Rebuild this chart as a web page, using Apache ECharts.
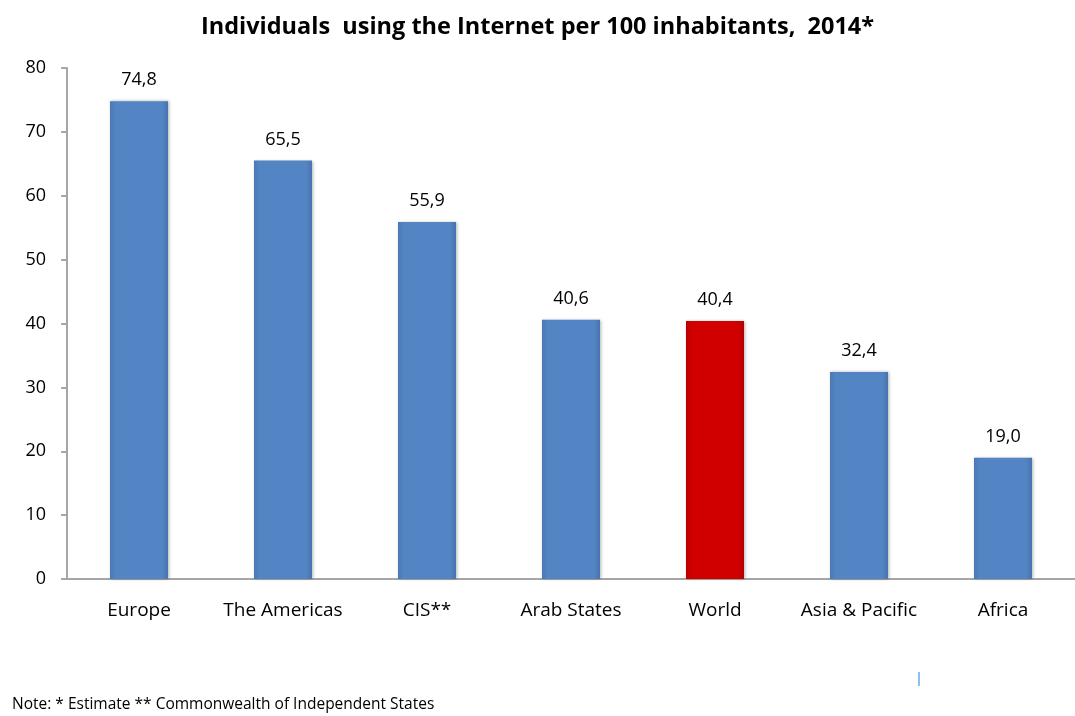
<!DOCTYPE html>
<html>
<head>
<meta charset="utf-8">
<script src="https://cdn.jsdelivr.net/npm/echarts@6/dist/echarts.min.js"></script>
<style>
  html, body { margin: 0; padding: 0; background: #fff; }
  #chart { width: 1075px; height: 716px; }
</style>
</head>
<body>
<div id="chart"></div>
<script>
// data
const regions = ['Europe', 'The Americas', 'CIS**', 'Arab States', 'World', 'Asia & Pacific', 'Africa']
const users = [74.8, 65.5, 55.9, 40.6, 40.4, 32.4, 19.0]
const highlight = 'World'

const blue = new echarts.graphic.LinearGradient(0, 0, 1, 0, [
  { offset: 0, color: '#4a7ab3' },
  { offset: 0.1, color: '#5385c4' },
  { offset: 0.9, color: '#5385c4' },
  { offset: 1, color: '#4874ad' }
])
const red = new echarts.graphic.LinearGradient(0, 0, 1, 0, [
  { offset: 0, color: '#b80000' },
  { offset: 0.1, color: '#d00000' },
  { offset: 0.9, color: '#d00000' },
  { offset: 1, color: '#b30000' }
])

const chart = echarts.init(document.getElementById('chart'))

chart.setOption({
  animation: false,
  textStyle: { fontFamily: 'Open Sans' },
  title: {
    text: 'Individuals  using the Internet per 100 inhabitants,  2014*',
    left: 'center',
    top: 10,
    textStyle: { fontFamily: 'Open Sans', fontSize: 23.5, fontWeight: 'bold', color: '#000' }
  },
  grid: { left: 67, top: 68, width: 1013, height: 511 },
  xAxis: {
    type: 'category',
    data: regions,
    axisLine: { lineStyle: { color: '#a6a6a6', width: 2 } },
    axisTick: { show: false },
    axisLabel: { interval: 0, fontSize: 19, color: '#000', margin: 22 }
  },
  yAxis: {
    type: 'value',
    min: 0,
    max: 80,
    interval: 10,
    splitLine: { show: false },
    axisLine: { show: true, lineStyle: { color: '#a6a6a6', width: 2 } },
    axisTick: { show: true, length: 6, lineStyle: { color: '#a6a6a6', width: 2 } },
    axisLabel: { fontSize: 18, color: '#000', margin: 21 }
  },
  series: [{
    type: 'bar',
    barWidth: 58,
    data: users.map((v, i) => ({
      value: v,
      itemStyle: { color: regions[i] === highlight ? red : blue }
    })),
    itemStyle: {
      shadowColor: 'rgba(0,0,0,0.3)',
      shadowBlur: 3,
      shadowOffsetX: 1
    },
    label: {
      show: true,
      position: 'top',
      distance: 12,
      fontSize: 18,
      color: '#000',
      formatter: p => p.value.toFixed(1).replace('.', ',')
    }
  }],
  graphic: [
    {
      type: 'text',
      left: 12,
      top: 697,
      style: {
        text: 'Note: * Estimate ** Commonwealth of Independent States',
        fontFamily: 'Open Sans',
        fontSize: 15.5,
        fill: '#000'
      }
    },
    {
      type: 'rect',
      shape: { x: 918, y: 672, width: 2, height: 14 },
      style: { fill: '#8ec0ea' }
    }
  ]
})
</script>
</body>
</html>
